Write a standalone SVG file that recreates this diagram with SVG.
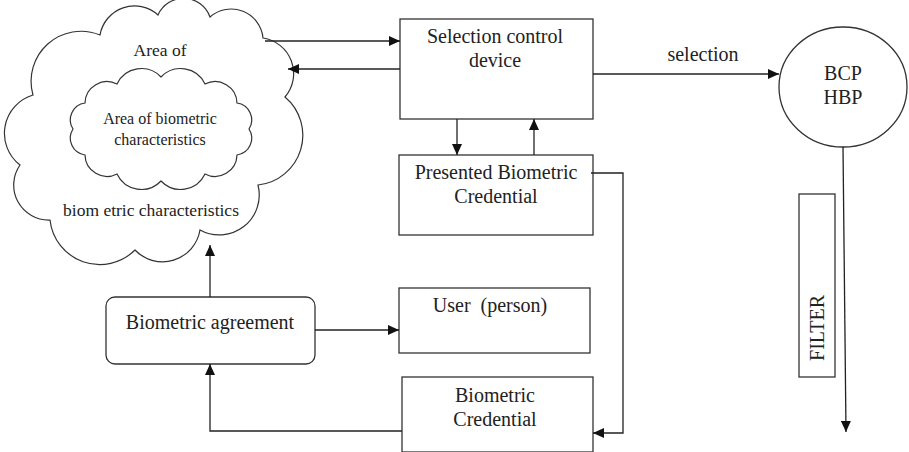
<svg xmlns="http://www.w3.org/2000/svg" width="909" height="452" viewBox="0 0 909 452">
<style>
.shape{fill:#fff;stroke:#333;stroke-width:1.3}
.cl{fill:none;stroke:#333;stroke-width:1.2}
.conn{fill:none;stroke:#222;stroke-width:1.3}
text{font-family:"Liberation Serif","Times New Roman",serif;fill:#222;text-anchor:middle}
.t20{font-size:20px}
.t17{font-size:17.5px}
.t16{font-size:16px}
</style>
<defs>
<marker id="ah" markerUnits="userSpaceOnUse" markerWidth="12" markerHeight="10" refX="11" refY="5" orient="auto">
<path d="M0,0 L11,5 L0,10 Z" fill="#111"/>
</marker>
</defs>
<rect width="909" height="452" fill="#fff"/>

<g id="cloud-outer">
<path class="cl" d="M100,35 A35,35 0 0 1 158,15 A28,28 0 0 1 210,17 A32,32 0 0 1 263,38 A36,36 0 0 1 285,97 A50,50 0 0 1 258,185 A40,40 0 0 1 200,230 A38,38 0 0 1 135,250 A50,50 0 0 1 50,220 A35,35 0 0 1 20,165 A40,40 0 0 1 33,95 A50,50 0 0 1 100,35 Z"/>
<text class="t17" x="160" y="56">Area of</text>
<text class="t17" x="151" y="216">biom etric characteristics</text>
</g>
<g id="cloud-inner">
<path class="cl" d="M249,129 A17,17 0 0 1 237,155 A22,22 0 0 1 205,174 A27,27 0 0 1 161,181 A27,27 0 0 1 117,174 A22,22 0 0 1 85,155 A17,17 0 0 1 73,129 A17,17 0 0 1 85,103 A22,22 0 0 1 117,84 A27,27 0 0 1 161,77 A27,27 0 0 1 205,84 A22,22 0 0 1 237,103 A17,17 0 0 1 249,129 Z"/>
<text class="t16" x="160" y="124">Area of biometric</text>
<text class="t16" x="160" y="145">characteristics</text>
</g>

<g id="selection-control">
<rect class="shape" x="400" y="19" width="193" height="100"/>
<text class="t20" x="495" y="43">Selection control</text>
<text class="t20" x="495" y="67">device</text>
</g>
<g id="presented-credential">
<rect class="shape" x="399" y="155" width="194" height="80"/>
<text class="t20" x="496" y="179">Presented Biometric</text>
<text class="t20" x="496" y="203">Credential</text>
</g>
<g id="bcp-hbp">
<ellipse class="shape" cx="843" cy="87" rx="64" ry="60"/>
<text class="t20" x="843" y="80">BCP</text>
<text class="t20" x="843" y="104">HBP</text>
</g>
<g id="filter">
<rect class="shape" x="799" y="194" width="36" height="183"/>
<text class="t20" transform="translate(824,328) rotate(-90)" x="0" y="0">FILTER</text>
</g>
<g id="user">
<rect class="shape" x="399" y="288" width="191" height="65"/>
<text class="t20" x="490" y="312" style="white-space:pre">User  (person)</text>
</g>
<g id="biometric-agreement">
<rect class="shape" x="106" y="297" width="209" height="67" rx="9" ry="9"/>
<text class="t20" x="210" y="329">Biometric agreement</text>
</g>
<g id="biometric-credential">
<rect class="shape" x="402" y="377" width="191" height="75"/>
<text class="t20" x="495" y="402">Biometric</text>
<text class="t20" x="495" y="426">Credential</text>
</g>

<g id="connectors">
<path class="conn" d="M265,41 H400" marker-end="url(#ah)"/>
<path class="conn" d="M400,69 H288" marker-end="url(#ah)"/>
<path class="conn" d="M457,119 V155" marker-end="url(#ah)"/>
<path class="conn" d="M534,155 V119" marker-end="url(#ah)"/>
<path class="conn" d="M593,74 H779" marker-end="url(#ah)"/>
<text class="t20" x="703" y="61">selection</text>
<path class="conn" d="M843,147 L846,432" marker-end="url(#ah)"/>
<path class="conn" d="M591,173 H623 V433 H593" marker-end="url(#ah)"/>
<path class="conn" d="M402,431 H210 V364" marker-end="url(#ah)"/>
<path class="conn" d="M210,297 V245" marker-end="url(#ah)"/>
<path class="conn" d="M315,330 H399" marker-end="url(#ah)"/>
</g>
</svg>
